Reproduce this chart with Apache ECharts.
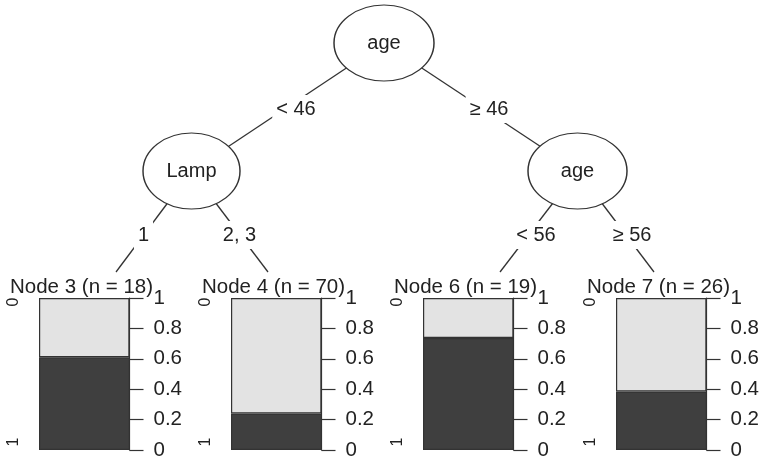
<!DOCTYPE html>
<html>
<head>
<meta charset="utf-8">
<script src="https://cdn.jsdelivr.net/npm/echarts@6/dist/echarts.min.js"></script>
<style>
html,body{margin:0;padding:0;background:#fff;}
#chart{width:762px;height:465px;}
</style>
</head>
<body>
<div id="chart"></div>
<script>
// ---------------- data ----------------
const innerNodeLabels = ['age', 'Lamp', 'age'];
const splitLabels = ['< 46', '\u2265 46', '1', '2, 3', '< 56', '\u2265 56'];
const leafIds = [3, 4, 6, 7];
const leafN = [18, 70, 19, 26];
const classLevels = ['0', '1'];
// proportion of class "1" (dark, bottom) and class "0" (light, top)
const propClass1 = [0.61, 0.24, 0.737, 0.385];
const propClass0 = [0.39, 0.76, 0.263, 0.615];
const yTickValues = [0, 0.2, 0.4, 0.6, 0.8, 1];

// ---------------- layout (pixels) ----------------
const panelLeft = [39, 231, 423, 616];
const panelWidth = 90.5, panelTop = 298, panelHeight = 152;
const innerPos = [[384, 43], [191.5, 171], [577.5, 171]];
const innerSize = [[100, 76], [97, 76], [99, 76]];
const leafAttach = [[116, 272], [268, 272], [500, 272], [654, 272]];
const splitLabelPos = [[296, 109], [489, 109], [143.5, 235], [239.5, 235], [536, 235], [632, 235]];
const parentOfLeaf = [1, 1, 2, 2];

const FONT = '"Liberation Sans", Arial, sans-serif';
const TXT = '#222';
const LINE = '#333';
const DARK = '#3f3f3f';
const LIGHT = '#e3e3e3';
const ellipsePath = 'path://M1 0C1.552 0 2 0.448 2 1C2 1.552 1.552 2 1 2C0.448 2 0 1.552 0 1C0 0.448 0.448 0 1 0Z';

const grids = [], xAxes = [], yAxes = [], series = [], titles = [];

leafIds.forEach((id, i) => {
  grids.push({left: panelLeft[i], top: panelTop, width: panelWidth, height: panelHeight, outerBoundsMode: 'none', containLabel: false});
  xAxes.push({type: 'category', gridIndex: i, data: ['n' + id], show: false});
  // right probability axis
  yAxes.push({
    type: 'value', gridIndex: i, position: 'right', min: 0, max: 1, interval: 0.2,
    axisLine: {show: true, lineStyle: {color: LINE, width: 1.2}},
    axisTick: {show: true, length: 14, lineStyle: {color: LINE, width: 1.2}},
    axisLabel: {show: true, margin: 24, fontSize: 20.5, color: TXT, fontFamily: FONT,
      formatter: v => String(yTickValues.find(t => Math.abs(t - v) < 1e-6) ?? v)},
    splitLine: {show: false}
  });
  // left class-level axis
  yAxes.push({
    type: 'value', gridIndex: i, position: 'left', min: 0, max: 1,
    axisLine: {show: false}, axisTick: {show: false}, splitLine: {show: false},
    axisLabel: {show: true, rotate: 90, margin: 17, fontSize: 16, color: TXT, fontFamily: FONT,
      customValues: [0.053, 0.974],
      formatter: v => (v > 0.5 ? classLevels[0] : classLevels[1])}
  });
  series.push({
    type: 'bar', xAxisIndex: i, yAxisIndex: 2 * i, stack: 's' + i, barWidth: '100%',
    data: [propClass1[i]], silent: true,
    itemStyle: {color: DARK, borderColor: LINE, borderWidth: 1.2}
  });
  series.push({
    type: 'bar', xAxisIndex: i, yAxisIndex: 2 * i, stack: 's' + i, barWidth: '100%',
    data: [propClass0[i]], silent: true,
    itemStyle: {color: LIGHT, borderColor: LINE, borderWidth: 1.2}
  });
  titles.push({
    text: 'Node ' + id + ' (n = ' + leafN[i] + ')',
    left: panelLeft[i] - 29, top: 276.5, padding: 0,
    textStyle: {fontSize: 20.5, fontWeight: 'normal', color: TXT, fontFamily: FONT}
  });
});

// full-canvas pixel grid for the tree
const G = leafIds.length;
grids.push({left: 0, top: 0, width: 762, height: 465, outerBoundsMode: 'none', containLabel: false});
xAxes.push({type: 'value', gridIndex: G, min: 0, max: 762, show: false});
yAxes.push({type: 'value', gridIndex: G, min: 0, max: 465, inverse: true, show: false});
const treeX = xAxes.length - 1, treeY = yAxes.length - 1;

const nodes = [];
const links = [];
innerNodeLabels.forEach((lab, i) => {
  nodes.push({
    name: 'inner' + i, value: innerPos[i], symbol: ellipsePath, symbolSize: innerSize[i],
    itemStyle: {color: '#fff', borderColor: LINE, borderWidth: 1.3},
    label: {show: true, position: 'inside', formatter: lab, fontSize: 20, color: TXT, fontFamily: FONT}
  });
});
leafIds.forEach((id, i) => {
  nodes.push({name: 'leaf' + i, value: leafAttach[i], symbolSize: 0, itemStyle: {color: 'rgba(0,0,0,0)'}, label: {show: false}});
});
splitLabels.forEach((lab, i) => {
  nodes.push({
    name: 'split' + i, value: splitLabelPos[i], symbolSize: 1, itemStyle: {color: 'rgba(0,0,0,0)'},
    label: {show: true, position: 'inside', formatter: lab, fontSize: 20, lineHeight: 20, color: TXT, fontFamily: FONT,
      backgroundColor: '#fff', padding: [4, 4]}
  });
});
links.push({source: 'inner0', target: 'inner1'});
links.push({source: 'inner0', target: 'inner2'});
leafIds.forEach((id, i) => links.push({source: 'inner' + parentOfLeaf[i], target: 'leaf' + i}));

series.push({
  type: 'graph', coordinateSystem: 'cartesian2d', xAxisIndex: treeX, yAxisIndex: treeY,
  layout: 'none', roam: false, silent: true, animation: false,
  data: nodes, links: links,
  lineStyle: {color: LINE, width: 1.3, opacity: 1, curveness: 0},
  emphasis: {disabled: true}
});

const chart = echarts.init(document.getElementById('chart'), null, {renderer: 'canvas'});
chart.setOption({
  animation: false,
  backgroundColor: '#fff',
  title: titles,
  grid: grids, xAxis: xAxes, yAxis: yAxes,
  tooltip: {show: false},
  series: series
});
</script>
</body>
</html>
